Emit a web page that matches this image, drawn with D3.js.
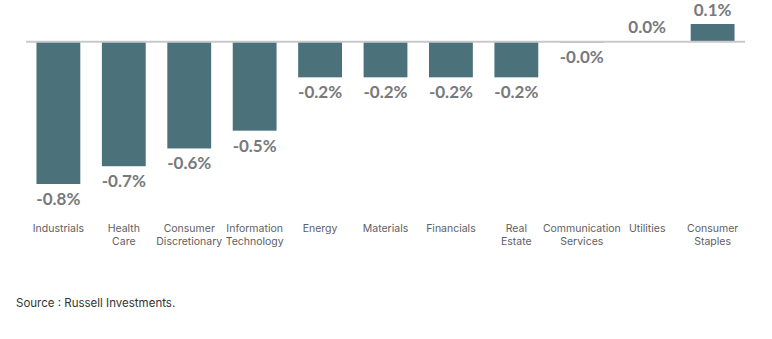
<!DOCTYPE html>
<html>
<head>
<meta charset="utf-8">
<script src="https://cdn.jsdelivr.net/npm/d3@7"></script>
<style>
  body { margin: 0; background: #fff; }
  svg { display: block; }
</style>
</head>
<body>
<svg id="chart" width="772" height="339"></svg>
<script>
// sectors, left to right
const sectors = [
  ['Industrials'],
  ['Health', 'Care'],
  ['Consumer', 'Discretionary'],
  ['Information', 'Technology'],
  ['Energy'],
  ['Materials'],
  ['Financials'],
  ['Real', 'Estate'],
  ['Communication', 'Services'],
  ['Utilities'],
  ['Consumer', 'Staples']
]
const returns = [-0.80, -0.70, -0.60, -0.50, -0.20, -0.20, -0.20, -0.20, -0.004, 0.004, 0.10]
const labels = ['-0.8%', '-0.7%', '-0.6%', '-0.5%', '-0.2%', '-0.2%', '-0.2%', '-0.2%', '-0.0%', '0.0%', '0.1%']

const svg = d3.select('#chart')

const x = d3.scaleBand()
  .domain(sectors.map((d, i) => i))
  .range([26, 745])
  .paddingInner(0.33)
  .paddingOuter(0.16)

const y = d3.scaleLinear()
  .domain([0.1, -0.8])
  .range([24, 184])

const barColor = '#4b717a'

svg.append('g')
  .selectAll('rect')
  .data(returns)
  .join('rect')
    .attr('x', (d, i) => x(i))
    .attr('width', x.bandwidth())
    .attr('y', d => y(Math.max(0, d)))
    .attr('height', d => Math.abs(y(d) - y(0)))
    .attr('fill', barColor)

// zero line
svg.append('line')
  .attr('x1', 26).attr('x2', 745)
  .attr('y1', y(0)).attr('y2', y(0))
  .attr('stroke', '#c9c9cb')
  .attr('stroke-width', 2)

// value labels
svg.append('g')
  .selectAll('text')
  .data(returns)
  .join('text')
    .attr('x', (d, i) => x(i) + x.bandwidth() / 2)
    .attr('y', d => d < 0 ? y(d) + 21 : y(d) - 8)
    .attr('text-anchor', 'middle')
    .attr('font-family', 'Lato, sans-serif')
    .attr('font-weight', 700)
    .attr('font-size', 17)
    .attr('fill', '#78797c')
    .text((d, i) => labels[i])

// category axis (no line, no ticks)
const xAxis = d3.axisBottom(x).tickSize(0).tickPadding(0).tickFormat(() => '')
const axisG = svg.append('g')
  .attr('transform', 'translate(0,222)')
  .call(xAxis)
axisG.select('.domain').remove()
axisG.selectAll('.tick text').each(function (d) {
  const t = d3.select(this)
    .attr('y', 0)
    .attr('dy', 0)
    .attr('font-family', 'Inter, sans-serif')
    .attr('font-size', 10.5)
    .attr('fill', '#5f6062')
  sectors[d].forEach((line, k) => {
    t.append('tspan')
      .attr('x', 0)
      .attr('y', 10 + k * 13)
      .text(line)
  })
})

svg.append('text')
  .attr('x', 16)
  .attr('y', 307)
  .attr('font-family', 'Inter, sans-serif')
  .attr('font-size', 11.5)
  .attr('fill', '#333')
  .text('Source : Russell Investments.')
</script>
</body>
</html>
